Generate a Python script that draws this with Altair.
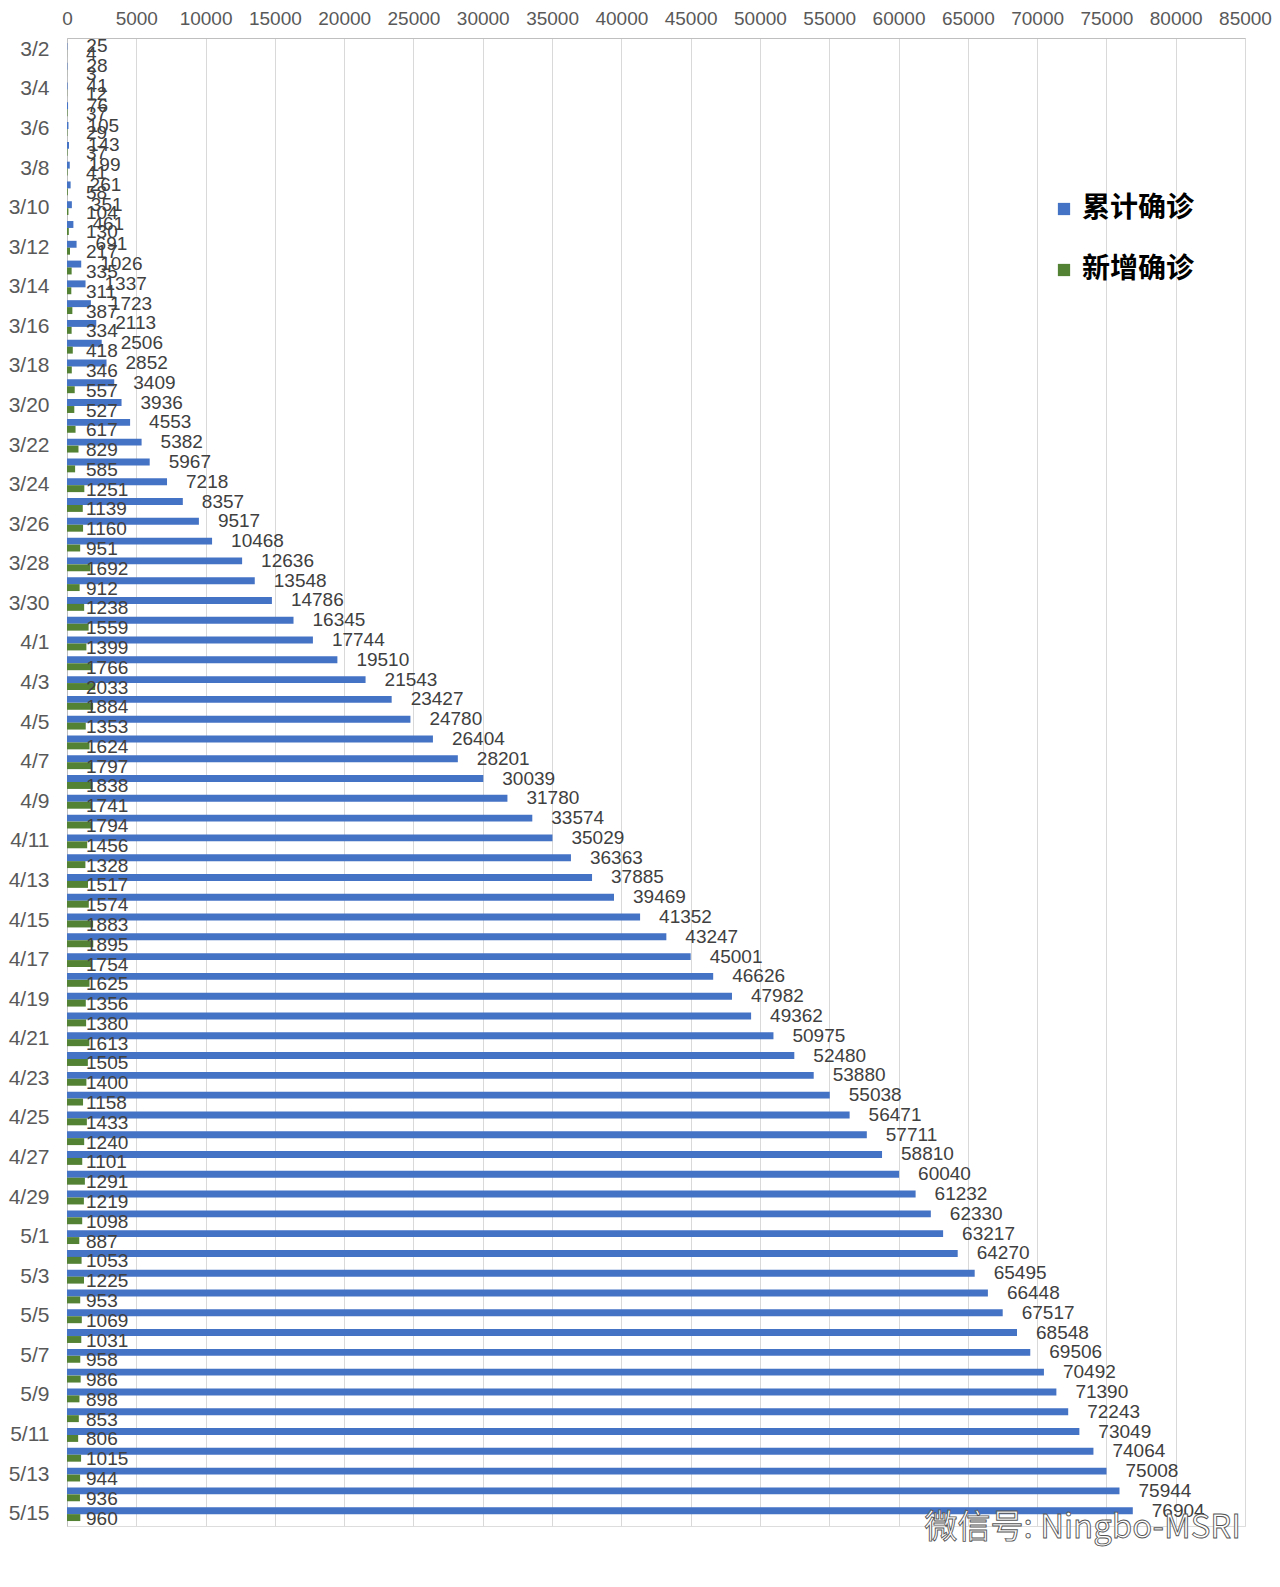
import altair as alt
import pandas as pd

dates = (
    [f"3/{d}" for d in range(2, 32)]
    + [f"4/{d}" for d in range(1, 31)]
    + [f"5/{d}" for d in range(1, 16)]
)

cumulative = [
    25, 28, 41, 76, 105, 143, 199, 261, 351, 461,
    691, 1026, 1337, 1723, 2113, 2506, 2852, 3409, 3936, 4553,
    5382, 5967, 7218, 8357, 9517, 10468, 12636, 13548, 14786, 16345,
    17744, 19510, 21543, 23427, 24780, 26404, 28201, 30039, 31780, 33574,
    35029, 36363, 37885, 39469, 41352, 43247, 45001, 46626, 47982, 49362,
    50975, 52480, 53880, 55038, 56471, 57711, 58810, 60040, 61232, 62330,
    63217, 64270, 65495, 66448, 67517, 68548, 69506, 70492, 71390, 72243,
    73049, 74064, 75008, 75944, 76904,
]

new_cases = [
    4, 3, 12, 37, 29, 37, 41, 58, 104, 130,
    217, 335, 311, 387, 334, 418, 346, 557, 527, 617,
    829, 585, 1251, 1139, 1160, 951, 1692, 912, 1238, 1559,
    1399, 1766, 2033, 1884, 1353, 1624, 1797, 1838, 1741, 1794,
    1456, 1328, 1517, 1574, 1883, 1895, 1754, 1625, 1356, 1380,
    1613, 1505, 1400, 1158, 1433, 1240, 1101, 1291, 1219, 1098,
    887, 1053, 1225, 953, 1069, 1031, 958, 986, 898, 853,
    806, 1015, 944, 936, 960,
]

series_names = ["累计确诊", "新增确诊"]
series_colors = ["#4472C4", "#548235"]
x_ticks = list(range(0, 85001, 5000))
watermark = ["微信号: Ningbo-MSRI"]

rows = []
for d, c, n in zip(dates, cumulative, new_cases):
    rows.append({"date": d, "series": series_names[0], "value": c})
    rows.append({"date": d, "series": series_names[1], "value": n})
df = pd.DataFrame(rows)

FONT = "Liberation Sans"

y_enc = alt.Y(
    "date:N",
    sort=dates,
    scale=alt.Scale(paddingInner=0.3, paddingOuter=0.25),
    axis=alt.Axis(
        title=None,
        values=dates[::2],
        ticks=False,
        labelPadding=18,
        labelFontSize=21,
        labelFont=FONT,
        labelColor="#595959",
        labelOverlap=False,
        domainColor="#BFBFBF",
        grid=False,
    ),
)
yoff_enc = alt.YOffset(
    "series:N", sort=series_names, scale=alt.Scale(paddingInner=0, paddingOuter=0)
)
x_scale = alt.Scale(domain=[0, 85000], nice=False)

base = alt.Chart(df)

bars = base.mark_bar().encode(
    y=y_enc,
    yOffset=yoff_enc,
    x=alt.X(
        "value:Q",
        scale=x_scale,
        axis=alt.Axis(
            orient="top",
            values=x_ticks,
            title=None,
            ticks=False,
            labelPadding=10,
            labelFontSize=19,
            labelFont=FONT,
            labelColor="#595959",
            labelFlush=False,
            labelOverlap=False,
            format="d",
            gridColor="#D9D9D9",
            domainColor="#BFBFBF",
        ),
    ),
    color=alt.Color(
        "series:N",
        sort=series_names,
        scale=alt.Scale(domain=series_names, range=series_colors),
        legend=alt.Legend(
            title=None,
            orient="none",
            legendX=983,
            legendY=157,
            symbolType="square",
            symbolSize=150,
            symbolStrokeWidth=0,
            labelFontSize=28,
            labelFont="Noto Sans CJK SC",
            labelFontWeight="bold",
            labelColor="#000000",
            labelOffset=4,
            rowPadding=33,
        ),
    ),
)

blue_labels = (
    base.transform_filter(alt.datum.series == series_names[0])
    .mark_text(
        align="left", baseline="middle", dx=19, fontSize=19, font=FONT, color="#404040"
    )
    .encode(
        y=y_enc,
        yOffset=yoff_enc,
        x=alt.X("value:Q", scale=x_scale),
        text=alt.Text("value:Q", format="d"),
    )
)

green_labels = (
    base.transform_filter(alt.datum.series == series_names[1])
    .mark_text(
        align="left", baseline="middle", dx=19, dy=1, fontSize=19, font=FONT, color="#404040"
    )
    .encode(
        y=y_enc,
        yOffset=yoff_enc,
        x=alt.X(datum=0, scale=x_scale),
        text=alt.Text("value:Q", format="d"),
    )
)

wm = (
    alt.Chart(pd.DataFrame({"t": watermark}))
    .mark_text(
        align="right",
        baseline="middle",
        dx=-4,
        dy=2,
        fontSize=33,
        font="Noto Sans CJK SC",
        fill="white",
        stroke="#555555",
        strokeWidth=0.9,
    )
    .encode(x=alt.X(datum=85000, scale=x_scale), y=alt.value(1488), text="t:N")
)

chart = (
    alt.layer(bars, blue_labels, green_labels, wm)
    .properties(
        width=1178,
        height=1488,
        autosize=alt.AutoSizeParams(type="none"),
        padding={"left": 59, "top": 30, "right": 27, "bottom": 50},
    )
    .configure_view(strokeWidth=0)
    .configure(background="white")
)

chart.save("out.html", embed_options={"renderer": "svg", "actions": False})
